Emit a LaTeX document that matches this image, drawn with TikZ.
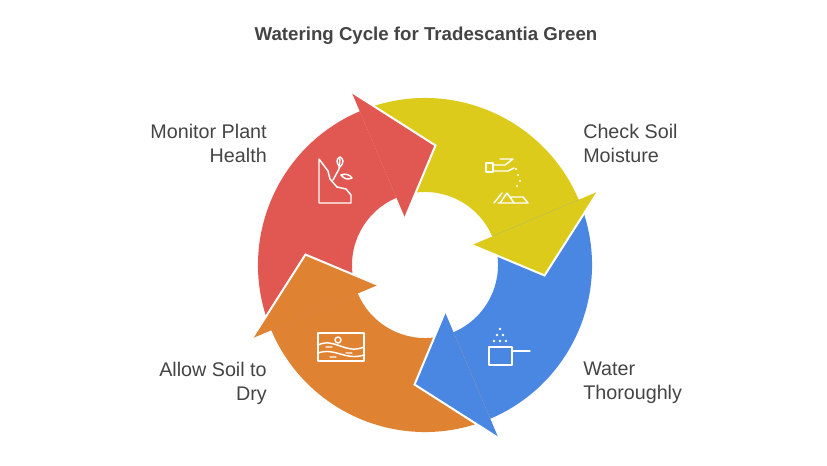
\documentclass[tikz,border=0pt]{standalone}
\usepackage{fontspec}
\setmainfont{Liberation Sans}
\usetikzlibrary{positioning}
\definecolor{segyellow}{HTML}{DCCB1A}
\definecolor{segblue}{HTML}{4A87E3}
\definecolor{segorange}{HTML}{DF8232}
\definecolor{segred}{HTML}{E15852}
\definecolor{txtgray}{HTML}{444444}
\begin{document}
\begin{tikzpicture}[x=0.75pt,y=0.75pt,
    label/.style = {font=\fontsize{14.8}{18}\selectfont, text=txtgray, inner sep=0pt},
    icon/.style  = {draw=white, line width=1.1pt, line cap=round, line join=round}]

  \useasboundingbox (0,0) rectangle (827,465);
  \node[font=\bfseries\fontsize{14}{17}\selectfont, text=txtgray] (title) at (426,429) {Watering Cycle for Tradescantia Green};

  \begin{scope}[shift={(425,200)}]
    % ring bodies
    \foreach \a/\c in {23/segyellow,-67/segblue,-157/segorange,113/segred}
      \fill[\c] (\a+90:167) arc[start angle=\a+90, end angle=\a, radius=167]
        -- (\a:73) arc[start angle=\a, end angle=\a+90, radius=73] -- cycle;
    % arrow heads
    \foreach \a/\c in {23/segyellow,-67/segblue,-157/segorange,113/segred}{
      \fill[\c] (\a:51) -- (\a:188) -- (\a-28:120) -- cycle;
      \draw[white, line width=1.5pt, line join=miter] (\a:188) -- (\a-28:120) -- (\a:51);
    }
  \end{scope}

  % icons
  \draw[icon] (319,306) -- (319,262) -- (351,262) -- (351,270) -- (346,276) -- (337,278) -- (330,286) -- (328,294) -- (319,306);
  \draw[icon] (333,285) -- (339,296) -- (340,306);
  \draw[icon] (340,298) .. controls (336,302) and (336,306) .. (340,308) .. controls (344,306) and (344,302) .. (340,298);
  \draw[icon] (341,290) .. controls (346,292) and (350,290) .. (352,287) .. controls (348,285) and (344,286) .. (341,290);

  \draw[icon] (486,302) rectangle (493,293);
  \draw[icon] (493,300) -- (505,300) -- (513,306) -- (500,306) (493,294) -- (508,294) -- (514,297);
  \draw[icon] (500,262) -- (507,272) -- (514,262) (498,262) -- (528,262) -- (523,268) -- (510,268) -- (514,262);
  \draw[icon] (494,262) -- (502,272);
  \foreach \p in {(516,296),(518,290),(520,284),(517,279)} \fill[white] \p circle (1.2);

  \draw[icon] (489,100) rectangle (512,118) (512,114) -- (530,114);
  \foreach \p in {(494,124),(500,124),(506,124),(497,130),(503,130),(500,136)} \fill[white] \p circle (1.3);

  \draw[icon] (318,104) rectangle (364,132);
  \draw[icon] (318,120) .. controls (335,128) and (345,110) .. (364,118);
  \draw[icon] (318,112) .. controls (335,118) and (345,104) .. (364,110);
  \draw[icon] (338,125) circle (3) (326,118) -- (332,118) (346,112) -- (352,112) (330,108) -- (336,108);

  % labels
  \node[label, anchor=east, align=right] (monitor) at (267,322) {Monitor Plant\\Health};
  \node[label, anchor=west, align=left] (check) at (583,322) {Check Soil\\Moisture};
  \node[label, anchor=west, align=left] (water) at (583,82) {Water\\Thoroughly};
  \node[label, anchor=east, align=right] (allow) at (267,82) {Allow Soil to\\Dry};
\end{tikzpicture}
\end{document}
